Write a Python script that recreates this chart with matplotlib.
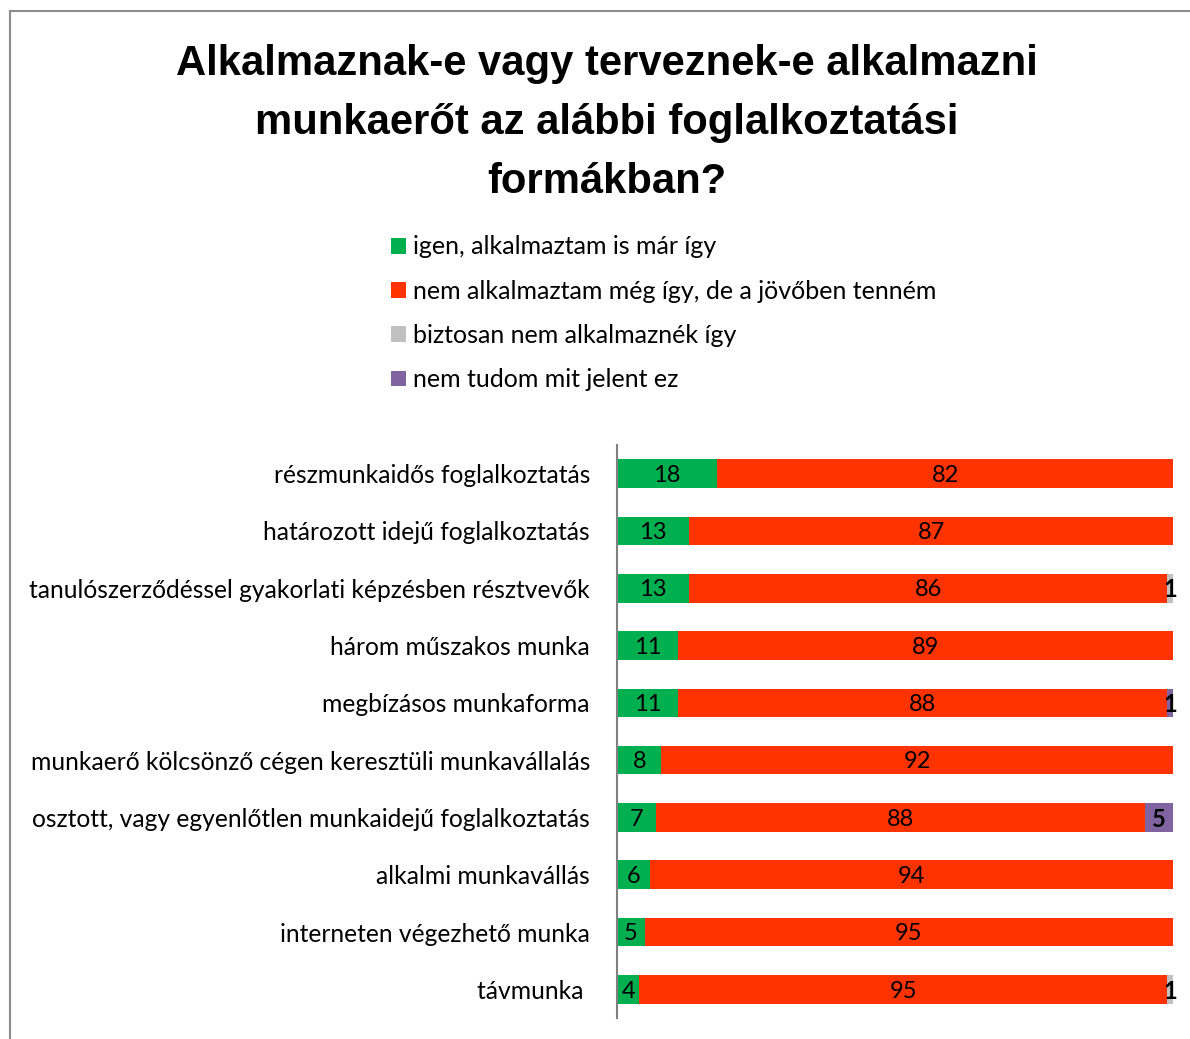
import numpy as np
import matplotlib.pyplot as plt
from matplotlib.lines import Line2D

# Data
categories = ['részmunkaidős foglalkoztatás',
              'határozott idejű foglalkoztatás',
              'tanulószerződéssel gyakorlati képzésben résztvevők',
              'három műszakos munka',
              'megbízásos munkaforma',
              'munkaerő kölcsönző cégen keresztüli munkavállalás',
              'osztott, vagy egyenlőtlen munkaidejű foglalkoztatás',
              'alkalmi munkavállás',
              'interneten végezhető munka',
              'távmunka ']
igen = [18, 13, 13, 11, 11, 8, 7, 6, 5, 4]
jovoben = [82, 87, 86, 89, 88, 92, 88, 94, 95, 95]
biztosan_nem = [0, 0, 1, 0, 0, 0, 0, 0, 0, 1]
nem_tudom = [0, 0, 0, 0, 1, 0, 5, 0, 0, 0]

series_names = ['igen, alkalmaztam is már így',
                'nem alkalmaztam még így, de a jövőben tenném',
                'biztosan nem alkalmaznék így',
                'nem tudom mit jelent ez']
colors = ['#00B050', '#FF3300', '#C0C0C0', '#8064A2']

label_font = ['Lato', 'DejaVu Sans']

fig = plt.figure(figsize=(11.9, 10.39), dpi=100)
ax = fig.add_axes([617/1190, 1 - 1018/1039, 556/1190, 573/1039])

y = np.arange(len(categories))
left = np.zeros(len(categories))
handles = []
for vals, name, col in zip([igen, jovoben, biztosan_nem, nem_tudom], series_names, colors):
    vals = np.array(vals, dtype=float)
    bars = ax.barh(y, vals, left=left, height=0.5, color=col, label=name)
    handles.append(bars)
    for yi, l, v in zip(y, left, vals):
        if v <= 0:
            continue
        weight = 'bold' if v <= 5 and name != series_names[0] else 'normal'
        ax.text(l + v / 2, yi + 0.03, f'{int(v)}', ha='center', va='center',
                fontsize=17, fontweight=weight, family=label_font, color='black')
    left += vals

ax.set_xlim(0, 100)
ax.set_ylim(len(categories) - 0.5, -0.5)
ax.set_yticks(y)
ax.set_yticklabels(categories, fontsize=17.7, family=label_font)
ax.tick_params(axis='y', length=0, pad=19.5)
ax.set_xticks([])
for s in ['top', 'right', 'bottom']:
    ax.spines[s].set_visible(False)
ax.spines['left'].set_color('#808080')
ax.spines['left'].set_linewidth(1.5)

# Title
fig.text(607/1190, 1 - 123/1039,
         'Alkalmaznak-e vagy terveznek-e alkalmazni\nmunkaerőt az alábbi foglalkoztatási\nformákban?',
         ha='center', va='center', fontsize=30.1, fontweight='bold',
         family='Liberation Sans', linespacing=1.61)

# Legend
leg = fig.legend(handles=handles, labels=series_names, loc='upper left',
                 bbox_to_anchor=(368/1190, 1 - 213/1039), frameon=False,
                 prop={'family': label_font, 'size': 18},
                 handlelength=0.6, handleheight=0.6, handletextpad=0.3,
                 labelspacing=0.85)

# Chart area frame (left and top edges)
fig.add_artist(Line2D([10/1190, 10/1190], [0, 1 - 11/1039], color='#8C8C8C', lw=1.5,
                      transform=fig.transFigure))
fig.add_artist(Line2D([10/1190, 1], [1 - 11/1039, 1 - 11/1039], color='#8C8C8C', lw=1.5,
                      transform=fig.transFigure))

fig.savefig('out.png', dpi=100)
